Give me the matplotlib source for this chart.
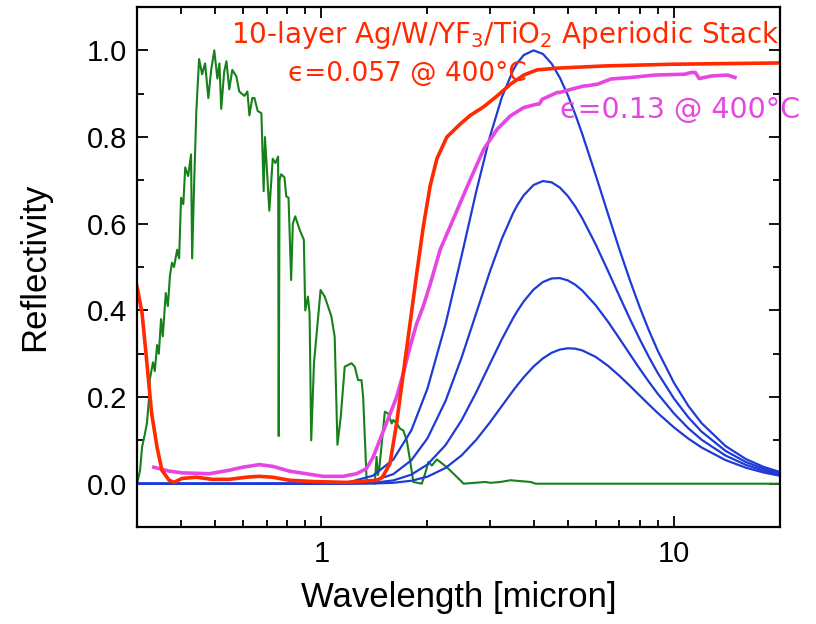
import matplotlib.pyplot as plt
from matplotlib.ticker import FixedLocator, FixedFormatter, LogLocator, MultipleLocator, NullFormatter

plt.rcParams['font.family'] = ['Liberation Sans', 'DejaVu Sans']

# AM1.5 solar spectrum, normalised to its peak
SUN_WL = [0.300, 0.306, 0.310, 0.316, 0.320, 0.324, 0.326, 0.333, 0.337, 0.342,
          0.346, 0.351, 0.355, 0.362, 0.367, 0.372, 0.377, 0.382, 0.390, 0.395,
          0.400, 0.406, 0.411, 0.419, 0.427, 0.430, 0.436, 0.442, 0.450, 0.459,
          0.468, 0.478, 0.487, 0.497, 0.507, 0.514, 0.520, 0.530, 0.538, 0.548,
          0.559, 0.574, 0.585, 0.605, 0.617, 0.625, 0.637, 0.646, 0.660, 0.676,
          0.686, 0.692, 0.712, 0.728, 0.741, 0.754, 0.757, 0.761, 0.769, 0.786,
          0.795, 0.807, 0.821, 0.830, 0.843, 0.868, 0.892, 0.900, 0.916, 0.926,
          0.936, 0.953, 0.968, 0.995, 1.022, 1.068, 1.091, 1.111, 1.135, 1.165,
          1.218, 1.244, 1.271, 1.300, 1.314, 1.344, 1.418, 1.434, 1.447, 1.460,
          1.514, 1.548, 1.583, 1.600, 1.636, 1.672, 1.708, 1.747, 1.785, 1.824,
          1.927, 1.969, 2.012, 2.058, 2.127, 2.270, 2.371, 2.477, 2.531, 2.919,
          3.016, 3.221, 3.440, 3.673, 3.922, 4.053, 20.0]
SUN_R = [0.0, 0.03, 0.084, 0.116, 0.139, 0.19, 0.24, 0.28, 0.26, 0.32,
         0.30, 0.38, 0.34, 0.44, 0.41, 0.48, 0.51, 0.50, 0.54, 0.52,
         0.66, 0.645, 0.73, 0.71, 0.76, 0.52, 0.70, 0.86, 0.98, 0.945,
         0.97, 0.89, 0.955, 1.0, 0.935, 0.97, 0.865, 0.95, 0.975, 0.91,
         0.955, 0.94, 0.905, 0.895, 0.905, 0.85, 0.89, 0.89, 0.86, 0.855,
         0.675, 0.80, 0.63, 0.75, 0.74, 0.755, 0.11, 0.70, 0.714, 0.707,
         0.663, 0.66, 0.47, 0.60, 0.617, 0.586, 0.563, 0.40, 0.432, 0.393,
         0.10, 0.278, 0.339, 0.447, 0.432, 0.386, 0.339, 0.09, 0.154, 0.27,
         0.278, 0.27, 0.239, 0.239, 0.20, 0.008, 0.0, 0.062, 0.02, 0.035,
         0.166, 0.162, 0.139, 0.147, 0.139, 0.127, 0.123, 0.10, 0.054, 0.004,
         0.0, 0.023, 0.05, 0.042, 0.056, 0.038, 0.023, 0.008, 0.0, 0.004,
         0.002, 0.004, 0.008, 0.006, 0.004, 0.0, 0.0]

# blackbody emission at 450, 400, 350, 300 C (normalised to the 450 C peak)
BB_WL = [0.3, 1.0, 1.2, 1.4, 1.6, 1.8, 2.0, 2.25, 2.5, 2.75,
         3.0, 3.25, 3.5, 3.6, 3.75, 4.0, 4.25, 4.5, 4.75, 5.0,
         5.25, 5.5, 6.0, 6.5, 7.0, 7.5, 8.0, 8.5, 9.0, 10,
         11, 12, 14, 16, 18, 20]
BB_450 = [0.0, 0.0003, 0.0037, 0.0184, 0.0557, 0.1231, 0.2196, 0.368, 0.5264, 0.6742,
          0.798, 0.8916, 0.9545, 0.9714, 0.9891, 1.0, 0.9918, 0.9695, 0.9367, 0.8969,
          0.8527, 0.8063, 0.7124, 0.6231, 0.5417, 0.4699, 0.4072, 0.3532, 0.3068, 0.2331,
          0.179, 0.1392, 0.0871, 0.0569, 0.0385, 0.027]
BB_400 = [0.0, 0.0, 0.0011, 0.0064, 0.0221, 0.0541, 0.1048, 0.1907, 0.2913, 0.3936,
          0.4872, 0.5652, 0.6247, 0.6433, 0.6656, 0.6894, 0.6984, 0.6955, 0.6833, 0.664,
          0.6398, 0.6122, 0.5523, 0.4913, 0.4335, 0.3806, 0.3334, 0.2918, 0.2555, 0.1967,
          0.1527, 0.1197, 0.0759, 0.05, 0.0342, 0.0241]
BB_350 = [0.0, 0.0, 0.0003, 0.0019, 0.0076, 0.0209, 0.0444, 0.0889, 0.1466, 0.2109,
          0.2749, 0.3331, 0.3823, 0.399, 0.4207, 0.4481, 0.4654, 0.4737, 0.4745, 0.4692,
          0.4592, 0.4456, 0.4119, 0.374, 0.3356, 0.299, 0.2652, 0.2347, 0.2075, 0.1623,
          0.1276, 0.1011, 0.0651, 0.0434, 0.0299, 0.0212]
BB_300 = [0.0, 0.0, 0.0, 0.0004, 0.0021, 0.0068, 0.0162, 0.0363, 0.0655, 0.1013,
          0.1404, 0.1791, 0.2149, 0.2278, 0.2456, 0.2705, 0.2892, 0.3021, 0.3096, 0.3125,
          0.3116, 0.3075, 0.2926, 0.2722, 0.2493, 0.226, 0.2035, 0.1824, 0.1631, 0.1301,
          0.1038, 0.0833, 0.0546, 0.0369, 0.0257, 0.0183]

# measured reflectivity of the fabricated sample
MEAS_WL = [0.335, 0.370, 0.403, 0.481, 0.548, 0.598, 0.667, 0.728, 0.812, 0.906,
           1.011, 1.152, 1.258, 1.343, 1.40, 1.49, 1.565, 1.635, 1.708, 1.785,
           1.865, 1.947, 2.035, 2.173, 2.32, 2.477, 2.645, 2.889, 3.153, 3.44,
           3.75, 4.09, 4.15, 4.23, 4.67, 4.75, 5.10, 5.56, 5.65, 6.07, 6.63,
           7.56, 8.80, 10.74, 11.2, 11.5, 11.8, 12.8, 14.2, 14.9]
MEAS_R = [0.038, 0.029, 0.025, 0.023, 0.031, 0.038, 0.044, 0.040, 0.029, 0.023,
          0.017, 0.017, 0.023, 0.035, 0.06, 0.116, 0.16, 0.2, 0.255, 0.316,
          0.37, 0.41, 0.46, 0.54, 0.594, 0.648, 0.702, 0.772, 0.818, 0.849,
          0.868, 0.876, 0.876, 0.887, 0.903, 0.903, 0.91, 0.918, 0.918, 0.922,
          0.934, 0.9375, 0.943, 0.945, 0.949, 0.949, 0.935, 0.941, 0.943, 0.9375]

# simulated reflectivity of the 10-layer stack
SIM_WL = [0.300, 0.310, 0.320, 0.330, 0.342, 0.353, 0.370, 0.382, 0.402, 0.442,
          0.490, 0.548, 0.613, 0.667, 0.727, 0.812, 0.945, 1.18, 1.44, 1.49,
          1.565, 1.635, 1.708, 1.785, 1.865, 1.947, 2.035, 2.127, 2.27, 2.477,
          2.645, 2.889, 3.153, 3.44, 3.75, 4.09, 4.67, 6.34, 9.83, 20.0]
SIM_R = [0.455, 0.394, 0.279, 0.163, 0.084, 0.031, 0.008, 0.003, 0.012, 0.015,
         0.010, 0.010, 0.015, 0.017, 0.015, 0.008, 0.005, 0.003, 0.008, 0.015,
         0.046, 0.139, 0.255, 0.37, 0.486, 0.594, 0.687, 0.750, 0.800, 0.830,
         0.850, 0.870, 0.895, 0.922, 0.943, 0.955, 0.959, 0.964, 0.968, 0.971]

RED = '#ff2a00'
MAGENTA = '#e646e2'
BLUE = '#1f3bd6'
GREEN = '#17801a'

fig = plt.figure(figsize=(8.16, 6.24), dpi=100)
ax = fig.add_axes([0.1679, 0.1554, 0.7880, 0.8333])

ax.plot(SUN_WL, SUN_R, color=GREEN, lw=1.5)
for bb in (BB_450, BB_400, BB_350, BB_300):
    ax.plot(BB_WL, bb, color=BLUE, lw=1.6)
ax.plot(MEAS_WL, MEAS_R, color=MAGENTA, lw=2.6)
ax.plot(SIM_WL, SIM_R, color=RED, lw=2.6)

ax.set_xscale('log')
ax.set_xlim(0.3, 20)
ax.set_ylim(-0.1, 1.1)

ax.xaxis.set_major_locator(FixedLocator([1, 10]))
ax.xaxis.set_major_formatter(FixedFormatter(['1', '10']))
ax.xaxis.set_minor_locator(LogLocator(base=10, subs=range(2, 10)))
ax.xaxis.set_minor_formatter(NullFormatter())
ax.yaxis.set_major_locator(MultipleLocator(0.2))
ax.yaxis.set_minor_locator(MultipleLocator(0.1))
ax.yaxis.set_major_formatter(plt.FormatStrFormatter('%.1f'))

ax.tick_params(which='both', direction='in', top=True, right=True, width=1.3)
ax.tick_params(which='major', length=8, labelsize=21)
ax.tick_params(axis='x', which='major', pad=9)
ax.tick_params(axis='y', which='major', pad=7)
ax.tick_params(which='minor', length=5)
for sp in ax.spines.values():
    sp.set_linewidth(1.6)

ax.set_xlabel('Wavelength [micron]', fontsize=25, labelpad=10)
ax.set_ylabel('Reflectivity', fontsize=25, labelpad=26)

ax.text(1.0, 0.946, '10-layer Ag/W/YF$_3$/TiO$_2$ Aperiodic Stack', transform=ax.transAxes,
        color=RED, fontsize=20, family='DejaVu Sans', ha='right', va='center')
ax.text(0.421, 0.871, '\u03f5=0.057 @ 400\u00b0C', transform=ax.transAxes,
        color=RED, fontsize=19, family='DejaVu Sans', ha='center', va='center')
ax.text(0.658, 0.802, '\u03f5=0.13 @ 400\u00b0C', transform=ax.transAxes,
        color=MAGENTA, fontsize=20.5, family='DejaVu Sans', ha='left', va='center')

fig.savefig('out.png', dpi=100)
